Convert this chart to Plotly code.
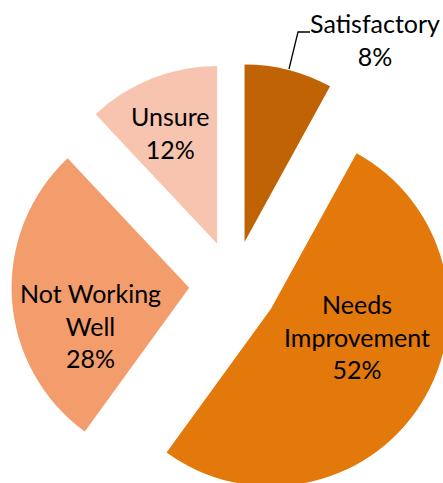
import plotly.graph_objects as go

# ---- data ----
labels = ["Satisfactory", "Needs Improvement", "Not Working Well", "Unsure"]
values = [8, 52, 28, 12]
colors = ["#C06304", "#E2790A", "#F39C6C", "#F7C4AF"]

# ---- canvas (slightly larger than the window so the pie is cropped like the reference) ----
W, H = 467, 507
PIE_BOX = 444

fig = go.Figure(
    go.Pie(
        labels=labels,
        values=values,
        sort=False,
        direction="clockwise",
        rotation=0,
        pull=[0.25] * len(values),
        marker=dict(colors=colors, line=dict(width=0)),
        textinfo="none",
        hoverinfo="label+percent",
        showlegend=False,
        domain=dict(x=[0, 1], y=[0, PIE_BOX / H]),
    )
)

total = sum(values)
pct = [f"{round(v / total * 100)}%" for v in values]

def px(x):
    return x / W

def py(y):
    return 1 - y / H

label_lines = {
    "Satisfactory": ["Satisfactory"],
    "Needs Improvement": ["Needs", "Improvement"],
    "Not Working Well": ["Not Working", "Well"],
    "Unsure": ["Unsure"],
}
# text-block centres (pixels)
label_pos = {
    "Satisfactory": (375, 39.5),
    "Needs Improvement": (357, 336),
    "Not Working Well": (90, 325),
    "Unsure": (170, 132.5),
}

font = dict(family="Lato, 'Open Sans', sans-serif", size=25, color="#000000")
for lab, p in zip(labels, pct):
    x, y = label_pos[lab]
    fig.add_annotation(
        x=px(x), y=py(y), xref="paper", yref="paper",
        text="<br>".join(label_lines[lab] + [p]),
        showarrow=False, font=font, align="center",
        xanchor="center", yanchor="middle",
    )

# leader line for the outside label
pts = [(289, 69), (298, 32), (310, 32)]
path = "M " + " L ".join(f"{px(a):.5f},{py(b):.5f}" for a, b in pts)
fig.add_shape(type="path", path=path, xref="paper", yref="paper",
              line=dict(color="#000000", width=1.3))

fig.update_layout(
    width=W, height=H,
    margin=dict(l=0, r=0, t=0, b=0),
    paper_bgcolor="white",
    plot_bgcolor="white",
)

fig.write_html(
    "out.html",
    config={"displayModeBar": False},
    post_script=(
        "document.documentElement.style.overflow='hidden';"
        "document.body.style.overflow='hidden';"
        "document.body.style.margin='0';"
    ),
)
